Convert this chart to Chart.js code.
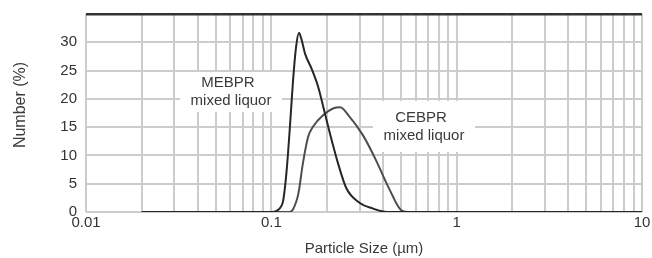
<!DOCTYPE html>
<html>
<head>
<meta charset="utf-8">
<script src="https://cdn.jsdelivr.net/npm/chart.js@4"></script>
<style>
  body { margin: 0; background: #fff; }
</style>
</head>
<body>
<canvas id="sizeChart" width="652" height="258"></canvas>
<script>
// particle size distribution
const sizesMEBPR  = [0.02, 0.1, 0.108, 0.113, 0.116, 0.121, 0.126, 0.131, 0.136, 0.141, 0.146, 0.152, 0.165, 0.179, 0.19, 0.207, 0.229, 0.254, 0.3, 0.354, 0.4, 0.45, 10];
const numberMEBPR = [0, 0, 0.3, 1.0, 2.1, 7.4, 15.1, 23.3, 29.2, 31.7, 30.3, 28.0, 25.3, 22.1, 18.8, 13.9, 8.6, 4.2, 1.6, 0.6, 0.1, 0, 0];

const sizesCEBPR  = [0.02, 0.125, 0.131, 0.14, 0.148, 0.158, 0.168, 0.19, 0.215, 0.235, 0.262, 0.313, 0.369, 0.418, 0.454, 0.473, 0.503, 0.54, 10];
const numberCEBPR = [0, 0, 0.5, 3.3, 8.6, 13.3, 15.1, 17.1, 18.3, 18.5, 17.0, 13.5, 9.0, 5.1, 2.7, 1.5, 0.3, 0, 0];

const xMajors = [0.01, 0.1, 1, 10];
const xTickLabels = ['0.01', '0.1', '1', '10'];
const yTickLabels = ['0', '5', '10', '15', '20', '25', '30'];

const xTitle = 'Particle Size (µm)';
const yTitle = 'Number (%)';

function toPoints(xs, ys) {
  return xs.map((x, i) => ({x: x, y: ys[i]}));
}

const FONT = '"Liberation Sans", Arial, sans-serif';

// white label boxes over the grid + axis titles
const labelPlugin = {
  id: 'labelPlugin',
  beforeDatasetsDraw(chart) {
    const ctx = chart.ctx;
    const boxes = [
      {lines: ['MEBPR', 'mixed liquor'], x: 180, y: 72, w: 102, h: 40},
      {lines: ['CEBPR', 'mixed liquor'], x: 373, y: 101, w: 102, h: 51}
    ];
    ctx.save();
    boxes.forEach(b => {
      ctx.fillStyle = '#fff';
      ctx.fillRect(b.x, b.y, b.w, b.h);
      ctx.fillStyle = '#3a3a3a';
      ctx.font = '15px ' + FONT;
      ctx.textAlign = 'center';
      ctx.textBaseline = 'middle';
      const cx = b.x + b.w / 2;
      const cy = b.y + b.h / 2;
      ctx.fillText(b.lines[0], cx - 3, cy - 9);
      ctx.fillText(b.lines[1], cx, cy + 9);
    });
    ctx.restore();
  },
  afterDraw(chart) {
    const ctx = chart.ctx;
    ctx.save();
    ctx.fillStyle = '#3a3a3a';
    ctx.textAlign = 'center';
    ctx.textBaseline = 'middle';
    ctx.font = '15px ' + FONT;
    ctx.fillText(xTitle, 364, 249);
    ctx.translate(21, 105);
    ctx.rotate(-Math.PI / 2);
    ctx.font = '16px ' + FONT;
    ctx.fillText(yTitle, 0, 0);
    ctx.restore();
  }
};

const config = {
  type: 'line',
  data: {
    datasets: [
      {
        label: 'MEBPR mixed liquor',
        data: toPoints(sizesMEBPR, numberMEBPR),
        borderColor: '#262626',
        borderWidth: 2,
        pointRadius: 0,
        cubicInterpolationMode: 'monotone',
        fill: false
      },
      {
        label: 'CEBPR mixed liquor',
        data: toPoints(sizesCEBPR, numberCEBPR),
        borderColor: '#4d4d4d',
        borderWidth: 2,
        pointRadius: 0,
        cubicInterpolationMode: 'monotone',
        fill: false
      }
    ]
  },
  options: {
    responsive: false,
    animation: false,
    devicePixelRatio: 1,
    layout: { padding: {top: 14, right: 10, left: 0, bottom: 0} },
    plugins: {
      legend: { display: false },
      tooltip: { enabled: false }
    },
    scales: {
      x: {
        type: 'logarithmic',
        min: 0.01,
        max: 10,
        border: { display: false },
        grid: { color: '#cccccc', lineWidth: 2, drawTicks: false },
        afterBuildTicks(scale) {
          const vals = [];
          for (let e = -2; e <= 0; e++) {
            for (let d = 1; d <= 9; d++) {
              vals.push(Number((d * Math.pow(10, e)).toPrecision(3)));
            }
          }
          vals.push(10);
          scale.ticks = vals.map(v => ({value: v}));
        },
        afterFit(scale) {
          scale.height = 46;
          scale.paddingLeft = 0;
          scale.paddingRight = 0;
        },
        ticks: {
          autoSkip: false,
          maxRotation: 0,
          padding: 2,
          color: '#333',
          font: { family: FONT, size: 15 },
          callback(value) {
            const i = xMajors.findIndex(m => Math.abs(m - value) < 1e-9);
            return i >= 0 ? xTickLabels[i] : '';
          }
        }
      },
      y: {
        min: 0,
        max: 35,
        border: { display: false },
        grid: {
          drawTicks: false,
          color: ctx => ctx.tick && ctx.tick.value === 35 ? '#333333' : '#cccccc',
          lineWidth: ctx => ctx.tick && ctx.tick.value === 35 ? 2.5 : 2
        },
        afterFit(scale) {
          scale.width = 86;
          scale.paddingTop = 0;
          scale.paddingBottom = 0;
        },
        ticks: {
          stepSize: 5,
          padding: 9,
          color: '#333',
          font: { family: FONT, size: 15 },
          callback(value) {
            const i = value / 5;
            return i < yTickLabels.length ? yTickLabels[i] : '';
          }
        }
      }
    }
  },
  plugins: [labelPlugin]
};

const sizeChart = new Chart(document.getElementById('sizeChart'), config);
</script>
</body>
</html>
